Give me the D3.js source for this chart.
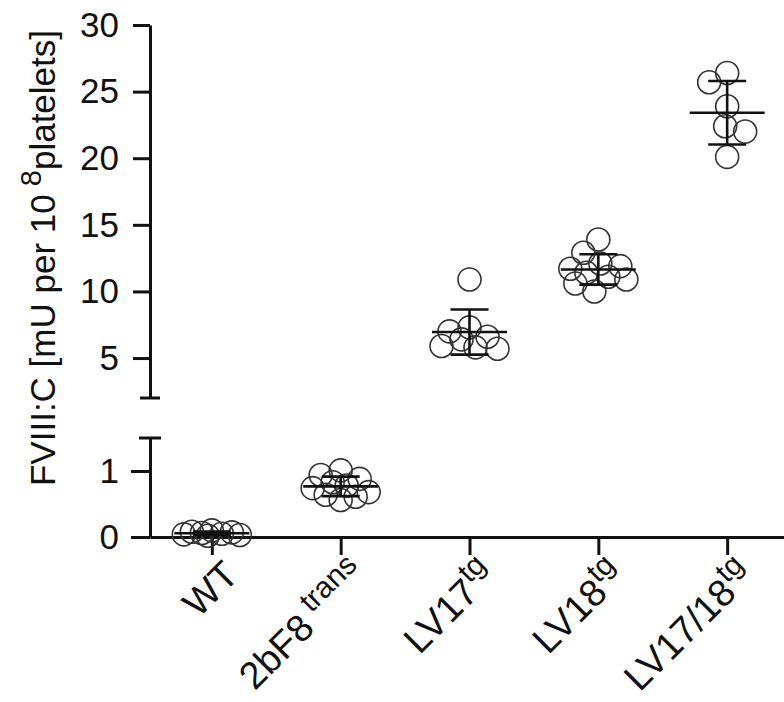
<!DOCTYPE html>
<html>
<head>
<meta charset="utf-8">
<script src="https://cdn.jsdelivr.net/npm/d3@7/dist/d3.min.js"></script>
<style>
  body { margin: 0; background: #fff; }
  text { font-family: Arial, "Liberation Sans", sans-serif; fill: #111; }
</style>
</head>
<body>
<svg id="chart" width="784" height="702"></svg>
<script>
// groups on the x axis (base name + superscript)
var groups = ["WT", "2bF8", "LV17", "LV18", "LV17/18"];
var groupSup = ["", "trans", "tg", "tg", "tg"];

// FVIII:C per group, mU per 10^8 platelets
var wtValues     = [0.10, 0.08, 0.07, 0.06, 0.05, 0.04, 0.03, 0.02];
var bF8Values    = [1.01, 0.94, 0.88, 0.83, 0.78, 0.74, 0.68, 0.64, 0.61, 0.56];
var lv17Values   = [10.9, 7.3, 7.0, 6.6, 6.4, 5.9, 5.8, 5.7];
var lv18Values   = [13.9, 12.9, 12.1, 11.9, 11.7, 11.4, 11.1, 10.9, 10.6, 10.0];
var lv1718Values = [26.4, 25.7, 23.9, 22.4, 22.0, 20.1];

// broken y axis: two segments
var yTopDomain = [2, 30];
var yBottomDomain = [0, 1.5];
var yTopTicks = [5, 10, 15, 20, 25, 30];
var yBottomTicks = [0, 1];

var allValues = [wtValues, bF8Values, lv17Values, lv18Values, lv1718Values];

var svg = d3.select("#chart");
var axisX = 150, axisY = 537;
var r = 11.5;
var fontSize = 35;

var x = d3.scalePoint().domain(groups).range([axisX, 789]).padding(0.48);
var yTop = d3.scaleLinear().domain(yTopDomain).range([398, 25]);
var yBot = d3.scaleLinear().domain(yBottomDomain).range([axisY, 438]);
function yPos(v) { return v > 1.75 ? yTop(v) : yBot(v); }

// simple beeswarm: closest free horizontal offset, else the least crowded one
function swarm(vals, maxW) {
  var minD = 2 * r * 0.87;
  var order = d3.range(vals.length).sort(function(a, b) { return vals[b] - vals[a]; });
  var placed = [], out = [];
  order.forEach(function(i) {
    var y = yPos(vals[i]);
    var pick = null, bestDx = 0, bestMd = -1;
    for (var k = 0; k <= maxW && pick === null; k++) {
      [-k, k].forEach(function(dx) {
        if (pick !== null) return;
        var md = placed.length ? d3.min(placed, function(p) { return Math.hypot(p.dx - dx, p.y - y); }) : Infinity;
        if (md >= minD) pick = dx;
        if (md > bestMd) { bestMd = md; bestDx = dx; }
      });
    }
    var dx = pick !== null ? pick : bestDx;
    placed.push({dx: dx, y: y});
    out[i] = dx;
  });
  return out;
}

var ink = "#111";

// y axis, upper part
var gTop = svg.append("g").attr("transform", "translate(" + axisX + ",0)")
  .call(d3.axisLeft(yTop).tickValues(yTopTicks).tickSize(17).tickSizeOuter(0).tickPadding(14));
gTop.append("line").attr("x1", -10).attr("x2", 10)
  .attr("y1", yTop(yTopDomain[0])).attr("y2", yTop(yTopDomain[0]));

// y axis, lower part
var gBot = svg.append("g").attr("transform", "translate(" + axisX + ",0)")
  .call(d3.axisLeft(yBot).tickValues(yBottomTicks).tickFormat(d3.format("d"))
    .tickSize(19).tickSizeOuter(0).tickPadding(12));
gBot.append("line").attr("x1", -11).attr("x2", 11)
  .attr("y1", yBot(yBottomDomain[1])).attr("y2", yBot(yBottomDomain[1]));

// x axis
var gX = svg.append("g").attr("transform", "translate(0," + axisY + ")")
  .call(d3.axisBottom(x).tickSize(18).tickSizeOuter(0));

[gTop, gBot, gX].forEach(function(g) {
  g.selectAll("path, line").attr("stroke", ink).attr("stroke-width", 3);
  g.selectAll("text").attr("font-size", fontSize).attr("fill", ink)
    .attr("font-family", "Arial, 'Liberation Sans', sans-serif");
});

// rotated category labels with superscripts
gX.selectAll(".tick text").each(function(d, i) {
  var t = d3.select(this).text(null)
    .attr("x", null).attr("y", null).attr("dy", null)
    .attr("font-size", 38)
    .attr("text-anchor", "end")
    .attr("transform", "translate(28,40) rotate(-45)");
  t.append("tspan").text(d);
  if (groupSup[i]) {
    t.append("tspan").attr("font-size", 30).attr("dy", -15)
      .text((groupSup[i] === "trans" ? " " : "") + groupSup[i]);
  }
});

// y title
var title = svg.append("text")
  .attr("transform", "translate(55,258) rotate(-90)")
  .attr("text-anchor", "middle").attr("font-size", fontSize);
title.append("tspan").text("FVIII:C [mU per 10");
title.append("tspan").attr("font-size", 29).attr("dy", -14).text(" 8");
title.append("tspan").attr("dy", 14).text("platelets]");

// points, mean and SD
groups.forEach(function(g, gi) {
  var vals = allValues[gi];
  var cx = x(g);
  var offs = swarm(vals, 28);
  svg.append("g").selectAll("circle").data(vals).join("circle")
    .attr("cx", function(v, i) { return cx + offs[i]; })
    .attr("cy", function(v) { return yPos(v); })
    .attr("r", r)
    .attr("fill", "none").attr("stroke", "#333").attr("stroke-width", 1.6);

  var m = d3.mean(vals), sd = d3.deviation(vals);
  var eb = svg.append("g").attr("stroke", ink).attr("stroke-width", 2.6);
  eb.append("line").attr("x1", cx).attr("x2", cx).attr("y1", yPos(m + sd)).attr("y2", yPos(Math.max(m - sd, 0)));
  eb.append("line").attr("x1", cx - 19).attr("x2", cx + 19).attr("y1", yPos(m + sd)).attr("y2", yPos(m + sd));
  eb.append("line").attr("x1", cx - 19).attr("x2", cx + 19).attr("y1", yPos(Math.max(m - sd, 0))).attr("y2", yPos(Math.max(m - sd, 0)));
  eb.append("line").attr("x1", cx - 37.5).attr("x2", cx + 37.5).attr("y1", yPos(m)).attr("y2", yPos(m));
});
</script>
</body>
</html>
